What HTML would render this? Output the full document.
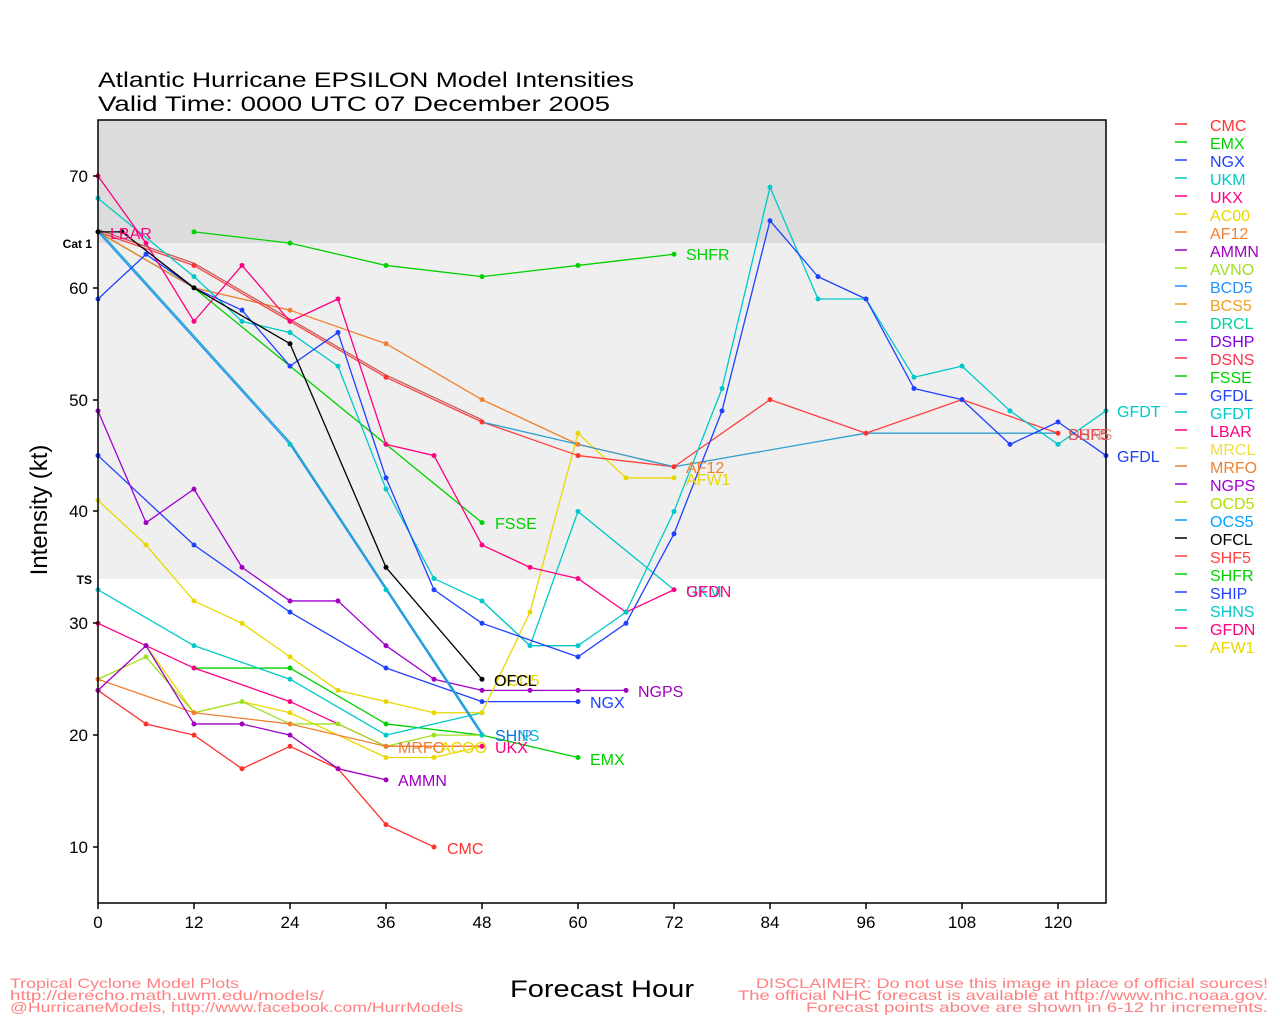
<!DOCTYPE html>
<html><head><meta charset="utf-8"><style>
html,body{margin:0;padding:0;background:#fff}
svg text{font-family:"Liberation Sans",sans-serif}
</style></head><body>
<svg width="1280" height="1024" viewBox="0 0 1280 1024" xmlns="http://www.w3.org/2000/svg">
<rect width="1280" height="1024" fill="#fff"/>
<rect x="98" y="120" width="1008" height="123" fill="#dcdcdc"/>
<rect x="98" y="243" width="1008" height="336" fill="#efefef"/>
<g transform="translate(98,958.8) scale(8,-11.183)" fill="none" stroke-linejoin="round">
<g stroke-width="1.3" vector-effect="non-scaling-stroke">
<polyline vector-effect="non-scaling-stroke" stroke="#ff3030" points="0,24 6,21 12,20 18,17 24,19 30,17 36,12 42,10"/>
<polyline vector-effect="non-scaling-stroke" stroke="#00d000" points="12,26 24,26 36,21 48,20 60,18"/>
<polyline vector-effect="non-scaling-stroke" stroke="#ff0080" points="0,30 6,28 12,26 24,23 36,19 48,19"/>
<polyline vector-effect="non-scaling-stroke" stroke="#00c8c8" points="0,33 12,28 24,25 36,20 48,22"/>
<polyline vector-effect="non-scaling-stroke" stroke="#2040ff" points="0,45 12,37 24,31 36,26 48,23 60,23"/>
<polyline vector-effect="non-scaling-stroke" stroke="#e8d800" points="6,28 12,22 18,23 24,22 30,20 36,18 42,18 48,19"/>
<polyline vector-effect="non-scaling-stroke" stroke="#a0e020" points="0,25 6,27 12,22 18,23 24,21 30,21 36,19 42,20 48,20"/>
<polyline vector-effect="non-scaling-stroke" stroke="#f08030" points="0,25 12,22 24,21 36,19 48,19"/>
<polyline vector-effect="non-scaling-stroke" stroke="#a000c0" points="0,24 6,28 12,21 18,21 24,20 30,17 36,16"/>
<polyline vector-effect="non-scaling-stroke" stroke="#a000d0" points="0,49 6,39 12,42 18,35 24,32 30,32 36,28 42,25 48,24 54,24 60,24 66,24"/>
<polyline vector-effect="non-scaling-stroke" stroke="#e8d800" points="0,41 6,37 12,32 18,30 24,27 30,24 36,23 42,22 48,22 54,31 60,47 66,43 72,43"/>
<polyline vector-effect="non-scaling-stroke" stroke="#00d000" points="0,65 12,60 24,53 36,46 48,39"/>
<polyline vector-effect="non-scaling-stroke" stroke="#00d000" points="12,65 24,64 36,62 48,61 60,62 72,63"/>
<polyline vector-effect="non-scaling-stroke" stroke="#f08030" points="0,65 12,60 24,58 36,55 48,50 60,46 72,44"/>
<polyline vector-effect="non-scaling-stroke" stroke="#ff4040" points="0,65 12,62 24,57 36,52 48,48 60,45 72,44 84,50 96,47 108,50 120,47"/>
<polyline vector-effect="non-scaling-stroke" stroke="#c06060" points="0,65.2 12,62.2 24,57.2 36,52.2 48,48.2"/>
<polyline vector-effect="non-scaling-stroke" stroke="#30a0d0" points="48,48 72,44 96,47 120,47"/>
<polyline vector-effect="non-scaling-stroke" stroke="#1e90ff" points="0,65 24,46 36,33 48,20"/>
<polyline vector-effect="non-scaling-stroke" stroke="#20a8c0" points="0,65.2 24,46.2 36,33.2 48,20.2"/>
<polyline vector-effect="non-scaling-stroke" stroke="#00c8c8" points="0,68 12,61 18,57 24,56 30,53 36,42 42,34 48,32 54,28 60,40 72,33"/>
<polyline vector-effect="non-scaling-stroke" stroke="#00c8c8" points="48,32 54,28 60,28 66,31 72,40 78,51 84,69 90,59 96,59 102,52 108,53 114,49 120,46 126,49"/>
<polyline vector-effect="non-scaling-stroke" stroke="#2040ff" points="0,59 6,63 12,60 18,58 24,53 30,56 36,43 42,33 48,30 60,27 66,30 72,38 78,49 84,66 90,61 96,59 102,51 108,50 114,46 120,48 126,45"/>
<polyline vector-effect="non-scaling-stroke" stroke="#ff0080" points="0,70 6,64 12,57 18,62 24,57 30,59 36,46 42,45 48,37 54,35 60,34 66,31 72,33"/>
<polyline vector-effect="non-scaling-stroke" stroke="#000" points="0,65 3,65 12,60 24,55 36,35 48,25"/>
</g>
<g stroke-width="5" stroke-linecap="round">
<path vector-effect="non-scaling-stroke" stroke="#ff3030" d="M0,24h0M6,21h0M12,20h0M18,17h0M24,19h0M30,17h0M36,12h0M42,10h0M60,45h0M72,44h0M84,50h0M96,47h0M108,50h0M120,47h0M12,62h0M36,52h0M48,48h0"/>
<path vector-effect="non-scaling-stroke" stroke="#00d000" d="M12,26h0M24,26h0M36,21h0M48,20h0M60,18h0M48,39h0M12,65h0M24,64h0M36,62h0M48,61h0M60,62h0M72,63h0"/>
<path vector-effect="non-scaling-stroke" stroke="#ff0080" d="M0,30h0M6,28h0M12,26h0M24,23h0M36,19h0M48,19h0M0,70h0M6,64h0M12,57h0M18,62h0M24,57h0M30,59h0M36,46h0M42,45h0M48,37h0M54,35h0M60,34h0M66,31h0M72,33h0"/>
<path vector-effect="non-scaling-stroke" stroke="#00c8c8" d="M0,33h0M12,28h0M24,25h0M36,20h0M48,22h0M0,68h0M12,61h0M18,57h0M24,56h0M30,53h0M36,42h0M42,34h0M48,32h0M54,28h0M60,40h0M60,28h0M66,31h0M72,40h0M78,51h0M84,69h0M90,59h0M96,59h0M102,52h0M108,53h0M114,49h0M120,46h0M126,49h0M24,46h0M36,33h0M48,20h0M0,65h0"/>
<path vector-effect="non-scaling-stroke" stroke="#2040ff" d="M0,45h0M12,37h0M24,31h0M36,26h0M48,23h0M60,23h0M0,59h0M6,63h0M18,58h0M24,53h0M30,56h0M36,43h0M42,33h0M48,30h0M60,27h0M66,30h0M72,38h0M78,49h0M84,66h0M90,61h0M96,59h0M102,51h0M108,50h0M114,46h0M120,48h0M126,45h0"/>
<path vector-effect="non-scaling-stroke" stroke="#e8d800" d="M12,22h0M24,22h0M36,18h0M42,18h0M0,41h0M6,37h0M12,32h0M18,30h0M24,27h0M30,24h0M36,23h0M42,22h0M48,22h0M54,31h0M60,47h0M66,43h0M72,43h0"/>
<path vector-effect="non-scaling-stroke" stroke="#a0e020" d="M0,25h0M6,27h0M18,23h0M30,21h0M42,20h0"/>
<path vector-effect="non-scaling-stroke" stroke="#f08030" d="M0,25h0M12,22h0M24,21h0M36,19h0M24,58h0M36,55h0M48,50h0M60,46h0"/>
<path vector-effect="non-scaling-stroke" stroke="#a000c0" d="M0,24h0M6,28h0M12,21h0M18,21h0M24,20h0M30,17h0M36,16h0M0,49h0M6,39h0M12,42h0M18,35h0M24,32h0M30,32h0M36,28h0M42,25h0M48,24h0M54,24h0M60,24h0M66,24h0"/>
<path vector-effect="non-scaling-stroke" stroke="#000" d="M0,65h0M3,65h0M12,60h0M24,55h0M36,35h0M48,25h0"/>
</g>
</g>
<rect x="98" y="120" width="1008" height="783" fill="none" stroke="#000" stroke-width="1.5"/>
<g stroke="#000" stroke-width="1.5">
<path d="M93,176h5M93,288h5M93,400h5M93,511h5M93,623h5M93,735h5M93,847h5"/>
<path d="M98,903v6M194,903v6M290,903v6M386,903v6M482,903v6M578,903v6M674,903v6M770,903v6M866,903v6M962,903v6M1058,903v6"/>
</g>
<g font-size="17" fill="#000" text-anchor="end">
<text x="88" y="182">70</text><text x="88" y="294">60</text><text x="88" y="406">50</text><text x="88" y="517">40</text><text x="88" y="629">30</text><text x="88" y="741">20</text><text x="88" y="853">10</text>
</g>
<g font-size="12" font-weight="bold" fill="#000" text-anchor="end">
<text x="92" y="248">Cat 1</text><text x="92" y="584">TS</text>
</g>
<g font-size="17" fill="#000" text-anchor="middle">
<text x="98" y="928">0</text><text x="194" y="928">12</text><text x="290" y="928">24</text><text x="386" y="928">36</text><text x="482" y="928">48</text><text x="578" y="928">60</text><text x="674" y="928">72</text><text x="770" y="928">84</text><text x="866" y="928">96</text><text x="962" y="928">108</text><text x="1058" y="928">120</text>
</g>
<text x="98" y="87" font-size="21" textLength="536" lengthAdjust="spacingAndGlyphs">Atlantic Hurricane EPSILON Model Intensities</text>
<text x="98" y="111" font-size="21" textLength="512" lengthAdjust="spacingAndGlyphs">Valid Time: 0000 UTC 07 December 2005</text>
<text transform="translate(47,510) rotate(-90)" font-size="24" text-anchor="middle">Intensity (kt)</text>
<text x="510" y="997" font-size="24" textLength="184" lengthAdjust="spacingAndGlyphs">Forecast Hour</text>
<g font-size="14" fill="#ff8080">
<text x="10" y="988" textLength="229" lengthAdjust="spacingAndGlyphs">Tropical Cyclone Model Plots</text>
<text x="10" y="1000" textLength="314" lengthAdjust="spacingAndGlyphs">http://derecho.math.uwm.edu/models/</text>
<text x="10" y="1012" textLength="453" lengthAdjust="spacingAndGlyphs">@HurricaneModels, http://www.facebook.com/HurrModels</text>
<text x="1268" y="988" text-anchor="end" textLength="512" lengthAdjust="spacingAndGlyphs">DISCLAIMER: Do not use this image in place of official sources!</text>
<text x="1268" y="1000" text-anchor="end" textLength="530" lengthAdjust="spacingAndGlyphs">The official NHC forecast is available at http://www.nhc.noaa.gov.</text>
<text x="1268" y="1012" text-anchor="end" textLength="462" lengthAdjust="spacingAndGlyphs">Forecast points above are shown in 6-12 hr increments.</text>
</g>
<g font-size="16">
<text x="447" y="854" fill="#ff3030">CMC</text>
<text x="590" y="765" fill="#00d000">EMX</text>
<text x="590" y="708" fill="#2040ff">NGX</text>
<text x="638" y="697" fill="#a000c0">NGPS</text>
<text x="398" y="786" fill="#a000c0">AMMN</text>
<text x="398" y="753" fill="#f08030">MRFO</text>
<text x="440" y="753" fill="#e8d800">ACOO</text>
<text x="495" y="753" fill="#ff0080">UKX</text>
<text x="495" y="741" fill="#00c8c8">SHNS</text>
<text x="495" y="741" fill="#2040ff" opacity="0.6">SHIP</text>
<text x="495" y="686" fill="#e8d800">OCD5</text>
<text x="494" y="686" fill="#000">OFCL</text>
<text x="495" y="529" fill="#00d000">FSSE</text>
<text x="686" y="260" fill="#00d000">SHFR</text>
<text x="686" y="473" fill="#f08030">AF12</text>
<text x="686" y="485" fill="#e8d800">AFW1</text>
<text x="686" y="597" fill="#00c8c8">UKM</text>
<text x="686" y="597" fill="#ff0080">GFDN</text>
<text x="110" y="239" fill="#ff0080">LBAR</text>
<text x="1068" y="440" fill="#ff4040">SHF5</text>
<text x="1068" y="440" fill="#c06060" opacity="0.6">DSNS</text>
<text x="1117" y="417" fill="#00c8c8">GFDT</text>
<text x="1117" y="462" fill="#2040ff">GFDL</text>
</g>
<g font-size="16">
<g stroke-width="1.5">
<path stroke="#ff3030" d="M1175,124h12"/><path stroke="#00d000" d="M1175,142h12"/><path stroke="#2040ff" d="M1175,160h12"/><path stroke="#00c8c8" d="M1175,178h12"/><path stroke="#ff0080" d="M1175,196h12"/><path stroke="#e8d800" d="M1175,214h12"/><path stroke="#f08030" d="M1175,232h12"/><path stroke="#a000c0" d="M1175,250h12"/><path stroke="#a0e020" d="M1175,268h12"/><path stroke="#1e90ff" d="M1175,286h12"/><path stroke="#f0a020" d="M1175,304h12"/><path stroke="#00d0a0" d="M1175,322h12"/><path stroke="#8000e0" d="M1175,340h12"/><path stroke="#ff3050" d="M1175,358h12"/><path stroke="#00d000" d="M1175,376h12"/><path stroke="#2040ff" d="M1175,394h12"/><path stroke="#00c8c8" d="M1175,412h12"/><path stroke="#ff0080" d="M1175,430h12"/><path stroke="#f0e040" d="M1175,448h12"/><path stroke="#f08030" d="M1175,466h12"/><path stroke="#a000d0" d="M1175,484h12"/><path stroke="#b0e000" d="M1175,502h12"/><path stroke="#00a0ff" d="M1175,520h12"/><path stroke="#000" d="M1175,538h12"/><path stroke="#ff4040" d="M1175,556h12"/><path stroke="#00d000" d="M1175,574h12"/><path stroke="#2040ff" d="M1175,592h12"/><path stroke="#00c8c8" d="M1175,610h12"/><path stroke="#ff0080" d="M1175,628h12"/><path stroke="#e8d800" d="M1175,646h12"/>
</g>
<text x="1210" y="131" fill="#ff3030">CMC</text>
<text x="1210" y="149" fill="#00d000">EMX</text>
<text x="1210" y="167" fill="#2040ff">NGX</text>
<text x="1210" y="185" fill="#00c8c8">UKM</text>
<text x="1210" y="203" fill="#ff0080">UKX</text>
<text x="1210" y="221" fill="#e8d800">AC00</text>
<text x="1210" y="239" fill="#f08030">AF12</text>
<text x="1210" y="257" fill="#a000c0">AMMN</text>
<text x="1210" y="275" fill="#a0e020">AVNO</text>
<text x="1210" y="293" fill="#1e90ff">BCD5</text>
<text x="1210" y="311" fill="#f0a020">BCS5</text>
<text x="1210" y="329" fill="#00d0a0">DRCL</text>
<text x="1210" y="347" fill="#8000e0">DSHP</text>
<text x="1210" y="365" fill="#ff3050">DSNS</text>
<text x="1210" y="383" fill="#00d000">FSSE</text>
<text x="1210" y="401" fill="#2040ff">GFDL</text>
<text x="1210" y="419" fill="#00c8c8">GFDT</text>
<text x="1210" y="437" fill="#ff0080">LBAR</text>
<text x="1210" y="455" fill="#f0e040">MRCL</text>
<text x="1210" y="473" fill="#f08030">MRFO</text>
<text x="1210" y="491" fill="#a000d0">NGPS</text>
<text x="1210" y="509" fill="#b0e000">OCD5</text>
<text x="1210" y="527" fill="#00a0ff">OCS5</text>
<text x="1210" y="545" fill="#000">OFCL</text>
<text x="1210" y="563" fill="#ff4040">SHF5</text>
<text x="1210" y="581" fill="#00d000">SHFR</text>
<text x="1210" y="599" fill="#2040ff">SHIP</text>
<text x="1210" y="617" fill="#00c8c8">SHNS</text>
<text x="1210" y="635" fill="#ff0080">GFDN</text>
<text x="1210" y="653" fill="#e8d800">AFW1</text>
</g>
</svg>
</body></html>
